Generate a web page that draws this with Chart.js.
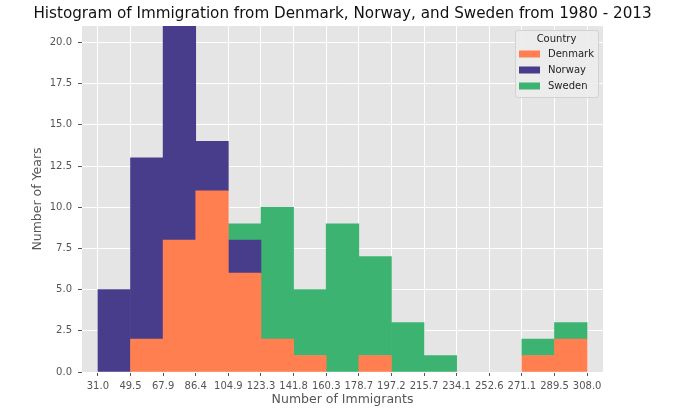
<!DOCTYPE html>
<html>
<head>
<meta charset="utf-8">
<script src="https://cdn.jsdelivr.net/npm/chart.js@4.4.1/dist/chart.umd.min.js"></script>
<style>
  body { margin: 0; background: #fff; }
  #wrap { width: 680px; height: 417px; }
</style>
</head>
<body>
<div id="wrap"><canvas id="myChart"></canvas></div>
<script>
// bin edges (15 bins) and their tick labels
const binEdges = [31.00, 49.47, 67.93, 86.40, 104.87, 123.33, 141.80, 160.27, 178.73, 197.20, 215.67, 234.13, 252.60, 271.07, 289.53, 308.00];
const edgeLabels = ['31.0', '49.5', '67.9', '86.4', '104.9', '123.3', '141.8', '160.3', '178.7', '197.2', '215.7', '234.1', '252.6', '271.1', '289.5', '308.0'];

// number of years per bin
const denmark = [0, 2, 8, 11, 6, 2, 1, 0, 1, 0, 0, 0, 0, 1, 2];
const norway  = [5, 11, 13, 3, 2, 0, 0, 0, 0, 0, 0, 0, 0, 0, 0];
const sweden  = [0, 0, 0, 0, 1, 8, 4, 9, 6, 3, 1, 0, 0, 1, 1];

const countries = ['Denmark', 'Norway', 'Sweden'];
const colors = ['#ff7f50', '#483d8b', '#3cb371'];

const yTicks = [0, 2.5, 5, 7.5, 10, 12.5, 15, 17.5, 20];

const chartTitle = 'Histogram of Immigration from Denmark, Norway, and Sweden from 1980 - 2013';

const centers = binEdges.slice(0, -1).map((e, i) => (e + binEdges[i + 1]) / 2);
const toPoints = arr => arr.map((v, i) => ({ x: centers[i], y: v }));

const font = "'DejaVu Sans', sans-serif";

// grey plot background + title centred over the plot
const plotBg = {
  id: 'plotBg',
  beforeDraw(chart) {
    const { ctx, chartArea: a } = chart;
    ctx.save();
    ctx.fillStyle = '#e5e5e5';
    ctx.fillRect(a.left, a.top, a.right - a.left, a.bottom - a.top);
    ctx.fillStyle = '#111';
    ctx.font = '15.2px ' + font;
    ctx.textAlign = 'center';
    ctx.textBaseline = 'middle';
    ctx.fillText(chartTitle, (a.left + a.right) / 2, 14);
    ctx.restore();
  }
};

// legend box inside the plot, top right
const boxLegend = {
  id: 'boxLegend',
  afterDatasetsDraw(chart) {
    const { ctx, chartArea: a } = chart;
    const x = a.right - 88, y = a.top + 4, w = 83, h = 67;
    ctx.save();
    ctx.fillStyle = 'rgba(236,236,236,0.9)';
    ctx.strokeStyle = '#d2d2d2';
    ctx.lineWidth = 1;
    ctx.beginPath();
    ctx.roundRect(x + 0.5, y + 0.5, w, h, 3);
    ctx.fill();
    ctx.stroke();
    ctx.fillStyle = '#222';
    ctx.font = '10px ' + font;
    ctx.textBaseline = 'middle';
    ctx.textAlign = 'center';
    ctx.fillText('Country', x + w / 2, y + 9);
    ctx.textAlign = 'left';
    chart.data.datasets.forEach((ds, i) => {
      const yy = y + 24 + i * 16;
      ctx.fillStyle = colors[i];
      ctx.fillRect(x + 4, yy - 3.5, 21, 7);
      ctx.fillStyle = '#222';
      ctx.fillText(ds.label, x + 33, yy);
    });
    ctx.restore();
  }
};

// empty bins get no fill at all
const barColor = i => c => (c.raw && c.raw.y === 0) ? 'rgba(0,0,0,0)' : colors[i];

new Chart(document.getElementById('myChart'), {
  type: 'bar',
  data: {
    datasets: [
      { label: countries[0], data: toPoints(denmark), backgroundColor: barColor(0) },
      { label: countries[1], data: toPoints(norway), backgroundColor: barColor(1) },
      { label: countries[2], data: toPoints(sweden), backgroundColor: barColor(2) }
    ]
  },
  options: {
    responsive: true,
    maintainAspectRatio: false,
    animation: false,
    layout: { padding: { left: 0, right: 77, top: 26, bottom: 0 } },
    datasets: { bar: { barPercentage: 1, categoryPercentage: 1, borderWidth: 0 } },
    plugins: {
      legend: { display: false },
      tooltip: { enabled: false },
      title: { display: false }
    },
    scales: {
      x: {
        type: 'linear',
        stacked: true,
        offset: false,
        min: 22,
        max: 317,
        afterBuildTicks: s => { s.ticks = binEdges.map(v => ({ value: v })); },
        afterFit: s => { s.height = 45; },
        ticks: {
          autoSkip: false,
          maxRotation: 0,
          padding: 4,
          color: '#555',
          font: { family: font, size: 10 },
          callback: (v, i) => edgeLabels[i]
        },
        grid: { offset: false, color: '#fff', lineWidth: 1, tickColor: '#555', tickLength: 4 },
        border: { display: false },
        title: {
          display: true,
          text: 'Number of Immigrants',
          color: '#555',
          font: { family: font, size: 12.5 },
          padding: { top: 0, bottom: 10 }
        }
      },
      y: {
        stacked: true,
        min: 0,
        max: 21,
        afterBuildTicks: s => { s.ticks = yTicks.map(v => ({ value: v })); },
        afterFit: s => { s.width = 82; },
        ticks: {
          padding: 6,
          color: '#555',
          font: { family: font, size: 10 },
          callback: v => v.toFixed(1)
        },
        grid: { color: '#fff', lineWidth: 1, tickColor: '#555', tickLength: 4 },
        border: { display: false },
        title: {
          display: true,
          text: 'Number of Years',
          color: '#555',
          font: { family: font, size: 12.5 },
          padding: { top: 30, bottom: 0 }
        }
      }
    }
  },
  plugins: [plotBg, boxLegend]
});
</script>
</body>
</html>
